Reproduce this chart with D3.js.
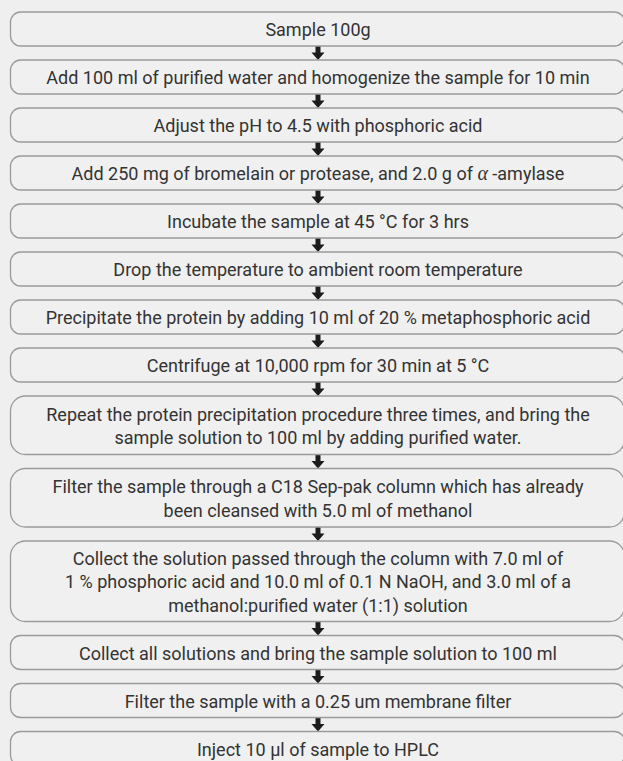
<!DOCTYPE html>
<html>
<head>
<meta charset="utf-8">
<script src="https://cdn.jsdelivr.net/npm/d3@7"></script>
<style>
  html, body { margin: 0; padding: 0; background: #efefef; }
  svg { display: block; }
</style>
</head>
<body>
<svg id="chart" width="623" height="761"></svg>
<script>
// Steps of the procedure (each entry = lines of text in one box)
const steps = [
  ["Sample 100g"],
  ["Add 100 ml of purified water and homogenize the sample for 10 min"],
  ["Adjust the pH to 4.5 with phosphoric acid"],
  ["Add 250 mg of bromelain or protease, and 2.0 g of |α| -amylase"],
  ["Incubate the sample at 45 °C for 3 hrs"],
  ["Drop the temperature to ambient room temperature"],
  ["Precipitate the protein by adding 10 ml of 20 % metaphosphoric acid"],
  ["Centrifuge at 10,000 rpm for 30 min at 5 °C"],
  ["Repeat the protein precipitation procedure three times, and bring the",
   "sample solution to 100 ml by adding purified water."],
  ["Filter the sample through a C18 Sep-pak column which has already",
   "been cleansed with 5.0 ml of methanol"],
  ["Collect the solution passed through the column with 7.0 ml of",
   "1 % phosphoric acid and 10.0 ml of 0.1 N NaOH, and 3.0 ml of a",
   "methanol:purified water (1:1) solution"],
  ["Collect all solutions and bring the sample solution to 100 ml"],
  ["Filter the sample with a 0.25 um membrane filter"],
  ["Inject 10 µl of sample to HPLC"]
];

const svg = d3.select("#chart");
const left = 10.5, right = 624.5, cx = 318;
const gap = 14, top0 = 12, lineH = 23.3;

// box height by number of lines
const hScale = d3.scaleLinear().domain([1, 2, 3]).range([34, 58.5, 80.5]);

const heights = steps.map(s => hScale(s.length));
const tops = [];
let acc = top0;
heights.forEach(h => { tops.push(acc); acc += h + gap; });

const boxes = steps.map((lines, i) => ({lines, y: tops[i], h: heights[i]}));

const g = svg.append("g");

// arrows between boxes
boxes.slice(0, -1).forEach((b, i) => {
  const y0 = b.y + b.h, y1 = boxes[i + 1].y;
  const headH = 7.5, shaftW = 5, headW = 13;
  const ym = y1 - headH;
  g.append("path")
    .attr("d", `M${cx - shaftW/2},${y0} L${cx + shaftW/2},${y0} L${cx + shaftW/2},${ym} L${cx + headW/2},${ym} L${cx},${y1} L${cx - headW/2},${ym} L${cx - shaftW/2},${ym} Z`)
    .attr("fill", "#1c1c1c");
});

const bg = g.selectAll("g.step").data(boxes).join("g").attr("class", "step");

bg.append("rect")
  .attr("x", left)
  .attr("y", d => d.y)
  .attr("width", right - left)
  .attr("height", d => d.h)
  .attr("rx", d => Math.min(d.h * 0.3, 15))
  .attr("ry", d => Math.min(d.h * 0.3, 15))
  .attr("fill", "#f0f0f0")
  .attr("stroke", "#9a9a9a")
  .attr("stroke-width", 1.3);

bg.each(function(d) {
  const n = d.lines.length;
  const mid = d.y + d.h / 2;
  d.lines.forEach((line, j) => {
    const t = d3.select(this).append("text")
      .attr("x", cx)
      .attr("y", mid + (j - (n - 1) / 2) * lineH + 7.2)
      .attr("text-anchor", "middle")
      .attr("font-family", "Roboto, 'Noto Sans', sans-serif")
      .attr("font-size", 18)
      .attr("fill", "#333333");
    const parts = line.split("|");
    parts.forEach((p, k) => {
      const ts = t.append("tspan").text(p);
      if (k % 2 === 1) {
        ts.attr("font-family", "'Liberation Serif', 'DejaVu Serif', serif")
          .attr("font-style", "italic")
          .attr("font-size", 20);
      }
    });
  });
});
</script>
</body>
</html>
